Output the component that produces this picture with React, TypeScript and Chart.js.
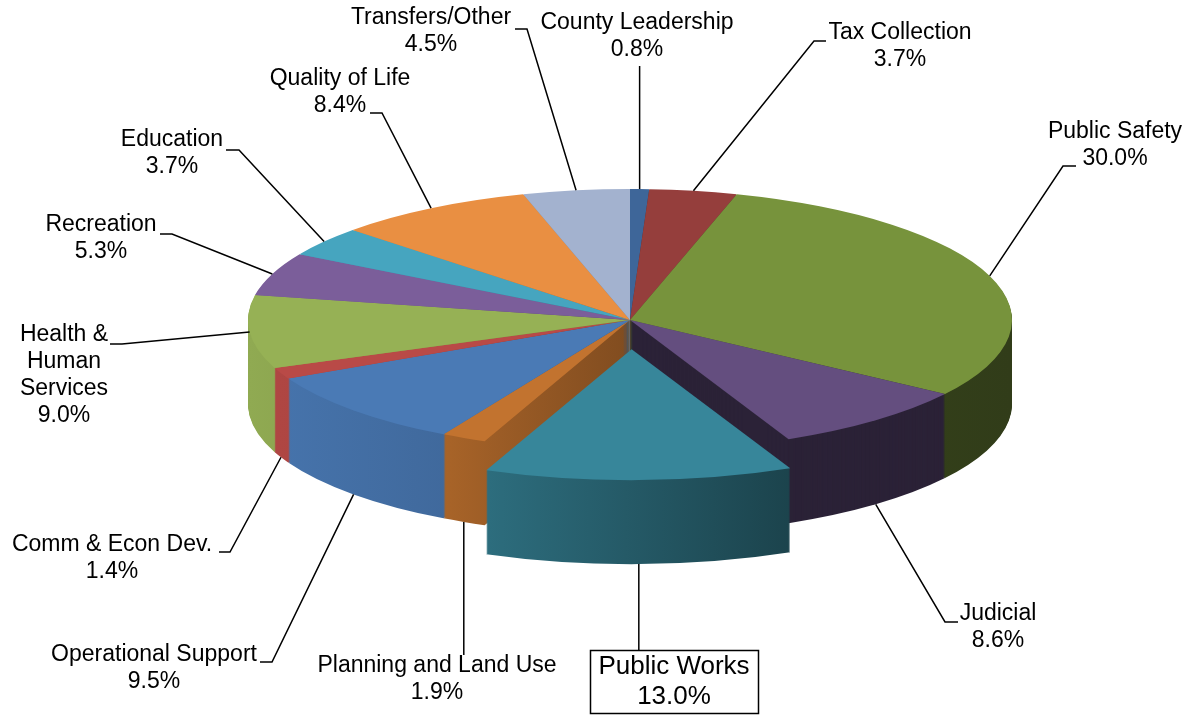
import React, { useEffect, useRef } from 'react';
import { Chart, registerables } from 'chart.js';

Chart.register(...registerables);

// ---------------- data ----------------
const categories = [
  'County Leadership',
  'Tax Collection',
  'Public Safety',
  'Judicial',
  'Public Works',
  'Planning and Land Use',
  'Operational Support',
  'Comm & Econ Dev.',
  'Health & Human Services',
  'Recreation',
  'Education',
  'Quality of Life',
  'Transfers/Other',
];
const shares = [0.8, 3.7, 30.0, 8.6, 13.0, 1.9, 9.5, 1.4, 9.0, 5.3, 3.7, 8.4, 4.5];
const percentLabels = shares.map((v) => v.toFixed(1) + '%');
const explodedCategory = 'Public Works';

// ---------------- style / layout ----------------
const sliceColors = [
  '#3E6699', '#953E3C', '#77933C', '#644E7F', '#37869A', '#C2732F', '#4A7AB5',
  '#B94A47', '#96B155', '#7B5E9A', '#46A5BF', '#E98F42', '#A3B2CF',
];
// optional flat wall tone per slice (null = lit by horizontal gradient)
const wallTones: Array<number | null> = [
  null, null, null, 0.43, null, null, null, null, null, null, null, null, null,
];
const CANVAS_W = 1189;
const CANVAS_H = 715;
const PIE_RADIUS = 382;
const TILT = 131 / 382;
const DEPTH = 84;
const EXPLODE = 85;
const FONT = '23px "Liberation Sans", Arial, sans-serif';
const BOX_FONT = '26px "Liberation Sans", Arial, sans-serif';
const LINE_H = 27;
const BOX_LINE_H = 30;
const wallShade: Array<[number, number]> = [
  [0, 0.96], [0.264, 0.86], [0.33, 0.8], [0.72, 0.49], [0.8, 0.44], [1, 0.41],
];

type Spot = {
  x: number; y: number; ax: number; ay: number; hx: number;
  base: 'top' | 'bottom'; lines?: string[]; boxed?: boolean;
};
const labelLayout: Spot[] = [
  { x: 637, y: 23, ax: 640, ay: 66, hx: 0, base: 'top' },
  { x: 900, y: 33, ax: 826, ay: 41, hx: -12, base: 'top' },
  { x: 1115, y: 132, ax: 1076, ay: 166, hx: -13, base: 'top' },
  { x: 998, y: 614, ax: 958, ay: 622, hx: -13, base: 'bottom' },
  { x: 674, y: 667, ax: 640, ay: 650, hx: 0, base: 'bottom', boxed: true },
  { x: 437, y: 666, ax: 464, ay: 655, hx: 0, base: 'bottom' },
  { x: 154, y: 655, ax: 260, ay: 662, hx: 12, base: 'bottom' },
  { x: 112, y: 545, ax: 219, ay: 552, hx: 11, base: 'bottom' },
  { x: 64, y: 335, ax: 110, ay: 344, hx: 12, base: 'top', lines: ['Health &', 'Human', 'Services'] },
  { x: 101, y: 225, ax: 160, ay: 234, hx: 12, base: 'top' },
  { x: 172, y: 140, ax: 226, ay: 150, hx: 13, base: 'top' },
  { x: 340, y: 79, ax: 370, ay: 113, hx: 12, base: 'top' },
  { x: 431, y: 18, ax: 515, ay: 29, hx: 12, base: 'top' },
];

function shade(hex: string, f: number): string {
  const n = parseInt(hex.slice(1), 16);
  const r = Math.round(((n >> 16) & 255) * f);
  const g = Math.round(((n >> 8) & 255) * f);
  const b = Math.round((n & 255) * f);
  return `rgb(${r},${g},${b})`;
}

function explodeShift(arc: any): [number, number] {
  const off = (arc.options && arc.options.offset) || 0;
  const mid = (arc.startAngle + arc.endAngle) / 2;
  return [Math.cos(mid) * off, Math.sin(mid) * off];
}

const pie3d = {
  id: 'pie3d',
  beforeDatasetsDraw(chart: any) {
    const arcs = chart.getDatasetMeta(0).data as any[];
    if (!arcs.length) return;
    const ctx: CanvasRenderingContext2D = chart.ctx;
    const cx = arcs[0].x;
    const cy = arcs[0].y;
    const R = arcs[0].outerRadius;
    const walls = arcs.map((a: any, i: number) => {
      const tone = wallTones[i];
      if (tone != null) return shade(a.options.backgroundColor, tone);
      const g = ctx.createLinearGradient(cx - R, 0, cx + R, 0);
      wallShade.forEach(([t, f]) => g.addColorStop(t, shade(a.options.backgroundColor, f)));
      return g;
    });
    ctx.save();
    ctx.translate(0, cy);
    ctx.scale(1, TILT);
    ctx.translate(0, -cy);
    const paint = (arc: any, fill: any, d: number) => {
      const [ex, ey] = explodeShift(arc);
      const proxy = Object.create(arc);
      proxy.options = { ...arc.options, backgroundColor: fill, borderWidth: 0, offset: 0 };
      ctx.save();
      ctx.translate(ex, ey + d / TILT);
      arc.draw.call(proxy, ctx);
      ctx.restore();
    };
    for (let d = DEPTH; d >= 1; d--) {
      arcs.forEach((a: any, i: number) => paint(a, walls[i], d));
    }
    arcs.forEach((a: any) => paint(a, a.options.backgroundColor, 0));
    ctx.restore();
    return false;
  },
  afterDraw(chart: any) {
    const arcs = chart.getDatasetMeta(0).data as any[];
    if (!arcs.length) return;
    const ctx: CanvasRenderingContext2D = chart.ctx;
    ctx.save();
    ctx.textAlign = 'center';
    ctx.textBaseline = 'middle';
    arcs.forEach((arc: any, i: number) => {
      const spot = labelLayout[i];
      const [ex, ey] = explodeShift(arc);
      const mid = (arc.startAngle + arc.endAngle) / 2;
      const R = arc.outerRadius;
      const px = arc.x + ex + Math.cos(mid) * R;
      const py = arc.y + (ey + Math.sin(mid) * R) * TILT + (spot.base === 'bottom' ? DEPTH : 0);
      // leader line
      ctx.strokeStyle = '#000';
      ctx.lineWidth = 1.5;
      ctx.beginPath();
      ctx.moveTo(px, py);
      if (spot.hx === 0) {
        ctx.lineTo(px, spot.ay);
      } else {
        ctx.lineTo(spot.ax + spot.hx, spot.ay);
        ctx.lineTo(spot.ax, spot.ay);
      }
      ctx.stroke();
      // text
      const lines = [...(spot.lines || [categories[i]]), percentLabels[i]];
      ctx.font = spot.boxed ? BOX_FONT : FONT;
      const lh = spot.boxed ? BOX_LINE_H : LINE_H;
      if (spot.boxed) {
        const w = Math.max(...lines.map((l) => ctx.measureText(l).width)) + 17;
        const h = lines.length * lh + 3;
        const top = spot.ay;
        const left = Math.round(spot.x - w / 2) + 0.5;
        ctx.fillStyle = '#fff';
        ctx.fillRect(left, top, w, h);
        ctx.lineWidth = 1.5;
        ctx.strokeRect(left, Math.round(top) + 0.5, Math.round(w), Math.round(h));
      }
      ctx.fillStyle = '#000';
      lines.forEach((l, k) => {
        ctx.fillText(l, spot.x, spot.y + k * lh);
      });
    });
    ctx.restore();
  },
};

export default function App() {
  const ref = useRef<HTMLCanvasElement | null>(null);
  useEffect(() => {
    document.body.style.margin = '0';
    const canvas = ref.current;
    if (!canvas) return;
    const chart = new Chart(canvas, {
      type: 'pie',
      data: {
        labels: categories,
        datasets: [
          {
            data: shares,
            backgroundColor: sliceColors,
            borderWidth: 0,
            offset: categories.map((c) => (c === explodedCategory ? EXPLODE : 0)),
          },
        ],
      },
      options: {
        responsive: false,
        animation: false,
        radius: PIE_RADIUS,
        layout: { padding: { left: 71, right: 0, top: 0, bottom: 75 } },
        plugins: { legend: { display: false }, tooltip: { enabled: false } },
        events: [],
      } as any,
      plugins: [pie3d as any],
    });
    return () => chart.destroy();
  }, []);
  return (
    <div style={{ width: CANVAS_W, height: CANVAS_H, background: '#fff' }}>
      <canvas ref={ref} width={CANVAS_W} height={CANVAS_H} style={{ display: 'block' }} />
    </div>
  );
}
